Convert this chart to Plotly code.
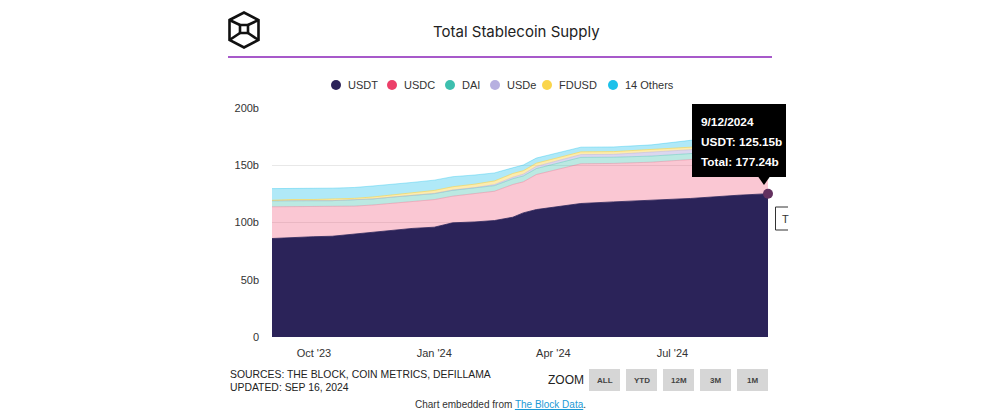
import plotly.graph_objects as go
from datetime import date

# ---------------- data (billions) ----------------
dates = ["2023-08-30", "2023-09-15", "2023-10-01", "2023-10-15", "2023-11-01", "2023-11-15",
         "2023-12-01", "2023-12-15", "2024-01-01", "2024-01-15", "2024-02-01", "2024-02-16",
         "2024-03-01", "2024-03-09", "2024-03-19", "2024-04-06", "2024-04-22", "2024-05-17",
         "2024-06-15", "2024-07-15", "2024-08-20", "2024-09-12"]
usdt = [86.0, 87.0, 87.6, 88.0, 90.0, 91.5, 93.8, 94.8, 95.9, 99.7, 100.5, 101.7,
        104.6, 108.4, 111.3, 114.2, 116.6, 118.0, 119.2, 121.0, 123.8, 125.15]
usdc = [27.7, 27.0, 26.3, 25.9, 24.3, 23.8, 23.2, 23.6, 24.1, 23.3, 24.5, 25.6,
        28.6, 27.1, 30.6, 32.7, 34.7, 33.6, 33.5, 34.0, 34.5, 34.8]
dai = [5.3, 5.3, 5.2, 5.2, 5.3, 5.3, 5.3, 5.2, 5.2, 5.1, 5.0, 4.9,
       5.0, 5.1, 5.2, 5.4, 5.6, 5.4, 5.3, 5.2, 5.2, 5.3]
usde = [0.0, 0.0, 0.0, 0.0, 0.0, 0.0, 0.05, 0.1, 0.2, 0.3, 0.5, 0.9,
        1.3, 1.6, 1.9, 2.2, 2.4, 2.5, 3.3, 3.4, 2.8, 2.7]
fdusd = [0.4, 0.8, 1.0, 1.2, 1.5, 1.7, 2.0, 2.3, 2.6, 2.8, 3.0, 3.2,
         3.3, 3.0, 2.8, 2.5, 2.4, 2.4, 2.5, 2.2, 2.6, 2.5]
others = [10.2, 9.9, 9.8, 9.7, 9.5, 9.6, 8.9, 9.0, 9.0, 8.8, 8.0, 7.0,
          5.0, 5.0, 4.5, 4.2, 4.1, 4.1, 4.0, 6.0, 6.5, 6.79]

series_names = ["USDT", "USDC", "DAI", "USDe", "FDUSD", "14 Others"]
series_values = [usdt, usdc, dai, usde, fdusd, others]

y_tick_vals = [0, 50, 100, 150, 200]
y_tick_text = ["0", "50b", "100b", "150b", "200b"]
x_tick_vals = ["2023-10-01", "2024-01-01", "2024-04-01", "2024-07-01"]
x_tick_text = ["Oct '23", "Jan '24", "Apr '24", "Jul '24"]
x_range = ["2023-08-30", "2024-09-12"]

title_text = "Total Stablecoin Supply"
sources_text = "SOURCES: THE BLOCK, COIN METRICS, DEFILLAMA"
updated_text = "UPDATED: SEP 16, 2024"
zoom_buttons = ["ALL", "YTD", "12M", "3M", "1M"]

# ---------------- styles ----------------
legend_colors = ["#2B2359", "#EC3F69", "#3DBFAE", "#B7B0E0", "#FAD54B", "#1CC1EA"]
fill_colors = ["#2B2359", "rgba(240,70,110,0.30)", "rgba(59,191,173,0.35)",
               "rgba(183,176,224,0.50)", "rgba(250,213,75,0.45)", "rgba(28,193,234,0.35)"]
line_colors = ["#2B2359", "rgba(240,70,110,0.35)", "rgba(59,191,173,0.45)",
               "rgba(183,176,224,0.6)", "rgba(250,213,75,0.8)", "rgba(28,193,234,0.45)"]

# page body has an 8px default margin -> figure origin sits at (8, 8) on screen
OFF = 8
W, H = 1000 - 2 * OFF, 419 - 2 * OFF
PL, PR, PT, PB = 272, 768, 108, 337   # plot area in screen (reference) pixels


def px(x):
    return (x - PL) / (PR - PL)


def py(y):
    return (PB - y) / (PB - PT)


fig = go.Figure()
for name, vals, fc, lc in zip(series_names, series_values, fill_colors, line_colors):
    fig.add_trace(go.Scatter(
        x=dates, y=vals, name=name, mode="lines", stackgroup="one",
        fillcolor=fc, line=dict(color=lc, width=0.8), showlegend=False,
        hoverinfo="skip"))

# hovered point marker
fig.add_trace(go.Scatter(x=[dates[-1]], y=[usdt[-1]], mode="markers",
                         marker=dict(color="#63305F", size=10, line=dict(width=0)),
                         showlegend=False, hoverinfo="skip", cliponaxis=False))

shapes = []
annotations = []

# logo
lw = 2.6
hexpath = (f"M {px(229.5)},{py(20)} L {px(244)},{py(12.5)} L {px(258.5)},{py(20)} "
           f"L {px(258.5)},{py(40)} L {px(244)},{py(47.5)} L {px(229.5)},{py(40)} Z")
shapes.append(dict(type="path", xref="paper", yref="paper", path=hexpath,
                   line=dict(color="#111", width=lw)))
shapes.append(dict(type="rect", xref="paper", yref="paper", x0=px(240), x1=px(248),
                   y0=py(33), y1=py(25), line=dict(color="#111", width=lw)))
for (ax, ay, bx, by) in [(229.5, 20, 240, 25), (258.5, 20, 248, 25),
                         (229.5, 40, 240, 33), (258.5, 40, 248, 33)]:
    shapes.append(dict(type="line", xref="paper", yref="paper", x0=px(ax), y0=py(ay),
                       x1=px(bx), y1=py(by), line=dict(color="#111", width=lw)))

# title + purple rule
annotations.append(dict(text=title_text, xref="paper", yref="paper", x=px(516), y=py(31),
                        xanchor="center", yanchor="middle", showarrow=False,
                        font=dict(family="Inter", size=15, color="#222")))
shapes.append(dict(type="line", xref="paper", yref="paper", x0=px(228), x1=px(772),
                   y0=py(57), y1=py(57), line=dict(color="#8A22B8", width=1.4)))

# legend (circles + labels)
leg_x = [336, 392, 450, 495, 547, 613]
for cx, name, col in zip(leg_x, series_names, legend_colors):
    r = 5
    shapes.append(dict(type="circle", xref="paper", yref="paper", x0=px(cx - r), x1=px(cx + r),
                       y0=py(85 + r), y1=py(85 - r), fillcolor=col, line=dict(width=0)))
    annotations.append(dict(text=name, xref="paper", yref="paper", x=px(cx + 10), y=py(85),
                            xanchor="left", yanchor="middle", showarrow=False,
                            font=dict(family="Liberation Sans", size=11, color="#333")))

# tooltip
d = date.fromisoformat(dates[-1])
total_last = sum(v[-1] for v in series_values)
tip_lines = [f"{d.month}/{d.day}/{d.year}", f"USDT: {usdt[-1]:.2f}b", f"Total: {total_last:.2f}b"]
shapes.append(dict(type="rect", xref="paper", yref="paper", x0=px(692), x1=px(786),
                   y0=py(177), y1=py(104), fillcolor="#000", line=dict(width=0)))
shapes.append(dict(type="path", xref="paper", yref="paper",
                   path=f"M {px(758)},{py(176.5)} L {px(770)},{py(176.5)} L {px(764)},{py(185)} Z",
                   fillcolor="#000", line=dict(width=0)))
for line_text, ly in zip(tip_lines, [121.5, 141.5, 161.5]):
    annotations.append(dict(text=f"<b>{line_text}</b>", xref="paper", yref="paper",
                            x=px(699), y=py(ly), xanchor="left", yanchor="middle",
                            align="left", showarrow=False,
                            font=dict(family="Liberation Sans", size=11.8, color="#fff")))

# clipped secondary label box
shapes.append(dict(type="path", xref="paper", yref="paper",
                   path=(f"M {px(788)},{py(207)} L {px(775.5)},{py(207)} "
                         f"L {px(775.5)},{py(230)} L {px(788)},{py(230)}"),
                   line=dict(color="#333", width=1)))
annotations.append(dict(text="T", xref="paper", yref="paper", x=px(780), y=py(218.5),
                        xanchor="left", yanchor="middle", showarrow=False,
                        font=dict(family="Liberation Sans", size=11, color="#333")))

# footer
annotations.append(dict(text=sources_text, xref="paper", yref="paper", x=px(228), y=py(374),
                        xanchor="left", yanchor="middle", showarrow=False,
                        font=dict(family="Liberation Sans", size=10.4, color="#222")))
annotations.append(dict(text=updated_text, xref="paper", yref="paper", x=px(228), y=py(387),
                        xanchor="left", yanchor="middle", showarrow=False,
                        font=dict(family="Liberation Sans", size=10.4, color="#222")))
annotations.append(dict(text="ZOOM", xref="paper", yref="paper", x=px(565.5), y=py(380),
                        xanchor="center", yanchor="middle", showarrow=False,
                        font=dict(family="Liberation Sans", size=12, color="#222")))
btn_x = [589, 626, 663, 700, 737]
for bx, lab in zip(btn_x, zoom_buttons):
    shapes.append(dict(type="rect", xref="paper", yref="paper", x0=px(bx), x1=px(bx + 31),
                       y0=py(391), y1=py(369), fillcolor="#D6D6D6", line=dict(width=0)))
    annotations.append(dict(text=f"<b>{lab}</b>", xref="paper", yref="paper", x=px(bx + 15.5),
                            y=py(380.5), xanchor="center", yanchor="middle", showarrow=False,
                            font=dict(family="Liberation Sans", size=8, color="#444")))
annotations.append(dict(
    text="Chart embedded from <span style='color:#1C9AD6'><u>The Block Data</u></span>.",
    xref="paper", yref="paper", x=px(500), y=py(404), xanchor="center", yanchor="middle",
    showarrow=False, font=dict(family="Liberation Sans", size=10, color="#333")))

fig.update_layout(
    width=W, height=H, autosize=False,
    margin=dict(l=PL - OFF, r=W - (PR - OFF), t=PT - OFF, b=H - (PB - OFF), pad=0),
    paper_bgcolor="#fff", plot_bgcolor="#fff",
    showlegend=False,
    shapes=shapes, annotations=annotations,
    xaxis=dict(type="date", range=x_range, tickvals=x_tick_vals, ticktext=x_tick_text,
               showgrid=False, zeroline=False, showline=False, ticks="",
               ticklabelstandoff=8,
               tickfont=dict(family="Liberation Sans", size=11, color="#333")),
    yaxis=dict(range=[0, 200], tickvals=y_tick_vals, ticktext=y_tick_text,
               showgrid=True, gridcolor="#E8E8E8", gridwidth=1, zeroline=False,
               showline=False, ticks="", ticklabelstandoff=12,
               tickfont=dict(family="Liberation Sans", size=11, color="#333")),
)

fig.write_html("out.html")
